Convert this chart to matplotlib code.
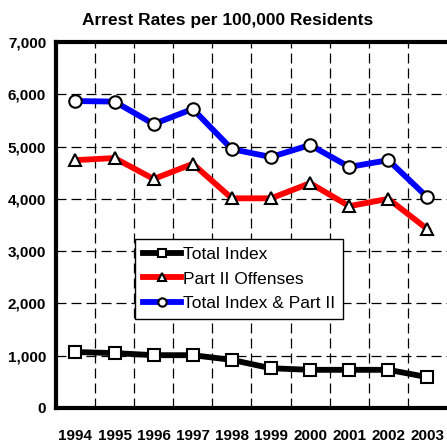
import matplotlib
matplotlib.use("Agg")
import matplotlib.pyplot as plt
from matplotlib.ticker import FuncFormatter

plt.rcParams['font.family'] = ['Liberation Sans', 'DejaVu Sans']

years = ["1994", "1995", "1996", "1997", "1998", "1999", "2000", "2001", "2002", "2003"]
total_index = [1070, 1050, 1010, 1010, 920, 760, 730, 730, 730, 590]
part_ii = [4740, 4780, 4380, 4670, 4010, 4010, 4300, 3860, 4000, 3420]
combined = [5870, 5860, 5430, 5720, 4950, 4800, 5030, 4610, 4740, 4030]

fig = plt.figure(figsize=(4.47, 4.48), dpi=100)
ax = fig.add_axes([0.125, 0.0893, 0.875, 0.817])

x = list(range(len(years)))
mk = dict(markerfacecolor='white', markeredgecolor='black', markeredgewidth=1.5,
          markersize=9, linewidth=4.2)
ax.plot(x, total_index, color='black', marker='s', label='Total Index', zorder=3, **mk)
ax.plot(x, part_ii, color='#ff0000', marker='^', label='Part II Offenses', zorder=3, **mk)
ax.plot(x, combined, color='#0000ff', marker='o', label='Total Index & Part II', zorder=3, **mk)

ax.set_xlim(-0.5, 9.5)
ax.set_ylim(0, 7000)
ax.set_yticks(range(0, 7001, 1000))
ax.yaxis.set_major_formatter(FuncFormatter(lambda v, p: f"{int(v):,}"))
ax.set_xticks(x)
ax.set_xticklabels(years)

# dashed grid: horizontal at each 1000, vertical between years
for v in range(1000, 7000, 1000):
    ax.axhline(v, color='black', linestyle=(0, (8, 4)), linewidth=0.9, zorder=1)
for gx in [i + 0.5 for i in range(9)]:
    ax.axvline(gx, color='black', linestyle=(0, (8, 4)), linewidth=0.9, zorder=1)

for side in ['left', 'bottom', 'top']:
    ax.spines[side].set_linewidth(3)
ax.spines['right'].set_visible(False)

ax.tick_params(axis='both', which='both', length=0)
ax.tick_params(axis='x', pad=15)
ax.tick_params(axis='y', pad=7)
for lbl in ax.get_xticklabels():
    lbl.set_fontsize(11)
    lbl.set_fontweight('bold')
for lbl in ax.get_yticklabels():
    lbl.set_fontsize(11)
    lbl.set_fontweight('bold')

fig.text(0.51, 0.955, "Arrest Rates per 100,000 Residents", fontsize=12.5,
         fontweight='bold', ha='center', va='center')

leg = ax.legend(loc='lower left', bbox_to_anchor=(0.202, 0.243),
                bbox_transform=ax.transAxes, fontsize=12.5,
                frameon=True, fancybox=False, edgecolor='black', framealpha=1,
                handlelength=2.2, handletextpad=0.15, borderpad=0.45, labelspacing=0.55,
                borderaxespad=0)
leg.set_zorder(5)
leg.get_frame().set_linewidth(1.0)
for h in leg.legend_handles:
    h.set_markersize(6)

fig.savefig("out.png", dpi=100)
